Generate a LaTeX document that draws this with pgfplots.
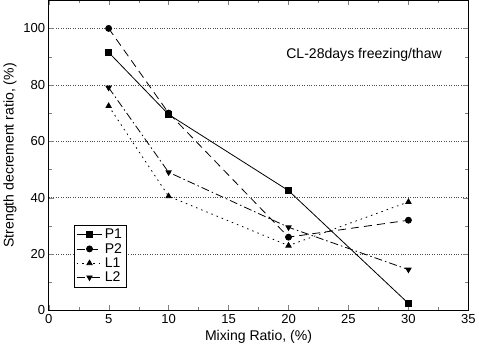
\documentclass[border=0pt]{standalone}
\usepackage{pgfplots}
\pgfplotsset{compat=1.18}
\usepackage{fontspec}
\setmainfont{Liberation Sans}
\begin{document}
\begin{tikzpicture}
\begin{axis}[
  scale only axis,
  width=418pt, height=309pt,
  xmin=0, xmax=35, ymin=0, ymax=110,
  xtick={0,5,...,35}, ytick={0,20,...,100},
  minor x tick num=1, minor y tick num=1,
  tick align=inside,
  xtick pos=both, ytick pos=both,
  xticklabel pos=lower, yticklabel pos=left,
  major tick length=5pt, minor tick length=3pt,
  ymajorgrids,
  grid style={dotted, black!70},
  /pgf/number format/assume math mode=true,
  tick label style={font=\fontsize{13}{15}\selectfont},
  label style={font=\fontsize{14}{16}\selectfont},
  xlabel={Mixing Ratio, (\%)},
  ylabel={Strength decrement ratio, (\%)},
  legend style={at={(0.06,0.074)}, anchor=south west, font=\fontsize{14}{16}\selectfont, draw=black, row sep=-1pt, inner sep=2pt, thick},
  legend cell align=left,
  legend image code/.code={\draw[mark repeat=2,mark phase=2] plot coordinates {(0cm,0cm) (0.45cm,0cm) (0.9cm,0cm)};},
  every axis plot/.append style={black, thick, mark size=3pt},
]
\addplot[solid, mark=square*] coordinates {(5,91.5) (10,69.5) (20,42.5) (30,2.5)};
\addlegendentry{P1}
\addplot[dash pattern=on 8pt off 5pt, mark=*, mark options={solid}] coordinates {(5,100) (10,70) (20,26) (30,32)};
\addlegendentry{P2}
\addplot[dash pattern=on 1.5pt off 4pt, mark=triangle*, mark options={solid}] coordinates {(5,72.5) (10,40.5) (20,23) (30,38.5)};
\addlegendentry{L1}
\addplot[dash pattern=on 8pt off 3pt on 1.5pt off 3pt, mark=triangle*, mark options={solid, rotate=180}] coordinates {(5,79) (10,49) (20,29.5) (30,14.5)};
\addlegendentry{L2}
\node[anchor=center, font=\fontsize{14}{16}\selectfont] at (axis cs:26.3,90.5) {CL-28days freezing/thaw};
\end{axis}
\end{tikzpicture}
\end{document}
